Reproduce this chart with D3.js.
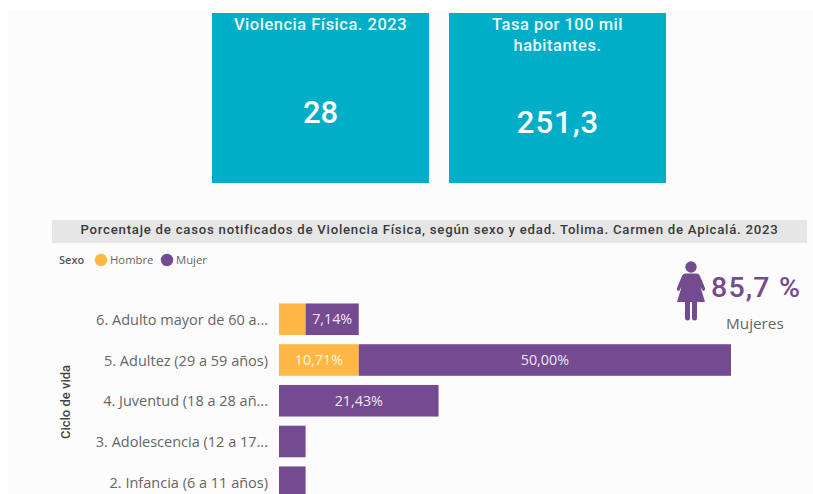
<!DOCTYPE html>
<html><head><meta charset="utf-8">
<script src="https://cdn.jsdelivr.net/npm/d3@7/dist/d3.min.js"></script>
<style>html,body{margin:0;padding:0;background:#fff;overflow:hidden}svg{display:block}</style>
</head><body><svg id="c" width="813" height="494"></svg>
<script>
const categories=["6. Adulto mayor de 60 a...","5. Adultez (29 a 59 años)","4. Juventud (18 a 28 añ...","3. Adolescencia (12 a 17...","2. Infancia (6 a 11 años)"];
const hombre=[3.57,10.71,0,0,0];
const mujer=[7.14,50.00,21.43,3.57,3.57];
const seriesNames=["Hombre","Mujer"];
const seriesColors=["#FFB845","#744A90"];
const chartTitle="Porcentaje de casos notificados de Violencia Física, según sexo y edad. Tolima. Carmen de Apicalá. 2023";
const cardTitles=[["Violencia Física. 2023"],["Tasa por 100 mil","habitantes."]];
const cardValues=["28","251,3"];
const din="Roboto, sans-serif", seg="'Open Sans', sans-serif";
const svg=d3.select("#c");
svg.append("rect").attr("x",8).attr("y",11).attr("width",805).attr("height",483).attr("fill","#fcfcfc");

// cards
const cx=[212,449],cvy=[123,133],cw=217;
cardValues.forEach((v,i)=>{
  svg.append("rect").attr("x",cx[i]).attr("y",13).attr("width",cw).attr("height",170).attr("fill","#00AEC7");
  cardTitles[i].forEach((t,j)=>svg.append("text").attr("x",cx[i]+cw/2).attr("y",30+j*20.5).attr("text-anchor","middle")
    .attr("font-family",din).attr("font-weight",500).attr("font-size",16.5).attr("letter-spacing",.5).attr("fill","#e9fafc").text(t));
  svg.append("text").attr("x",cx[i]+cw/2+(i?.5:0)).attr("y",cvy[i]).attr("text-anchor","middle")
    .attr("font-family",din).attr("font-weight",500).attr("font-size",31).attr("letter-spacing",i?1:0).attr("fill","#fff").text(v);
});

// title band
svg.append("rect").attr("x",52).attr("y",220).attr("width",755).attr("height",23).attr("fill","#E6E6E6");
svg.append("text").attr("x",429.5).attr("y",234).attr("text-anchor","middle").attr("font-family",din).attr("font-weight",500)
  .attr("font-size",13.2).attr("letter-spacing",.76).attr("fill","#3a3a3a").text(chartTitle);

// legend
svg.append("text").attr("x",59).attr("y",264).attr("font-family",seg).attr("font-size",11).attr("font-weight",600).attr("fill","#555").text("Sexo");
const lx=[101,167];
seriesNames.forEach((s,i)=>{
  svg.append("circle").attr("cx",lx[i]).attr("cy",260).attr("r",6.2).attr("fill",seriesColors[i]);
  svg.append("text").attr("x",lx[i]+9).attr("y",264).attr("font-family",seg).attr("font-size",11.3).attr("fill","#666").text(s);
});

// scales
const x=d3.scaleLinear().domain([0,60.71]).range([279,731]);
const y=d3.scaleBand().domain(categories).range([299,502.5]).paddingInner(.225).paddingOuter(.11);
svg.append("g").attr("transform","translate(279,1)")
  .call(d3.axisLeft(y).tickSize(0).tickPadding(11))
  .call(g=>g.select(".domain").remove())
  .selectAll("text").attr("font-family",seg).attr("font-size",14.5).attr("fill","#666");

const fmt=v=>v.toFixed(2).replace(".",",")+"%";
const stack=d3.stack().keys([0,1]).value((d,k)=>k===0?hombre[d]:mujer[d])(d3.range(categories.length));
stack.forEach((layer,k)=>{
  const g=svg.append("g");
  layer.forEach((d,i)=>{
    const v=d[1]-d[0]; if(!v) return;
    g.append("rect").attr("x",x(d[0])).attr("y",y(categories[i])).attr("width",x(d[1])-x(d[0])).attr("height",y.bandwidth()).attr("fill",seriesColors[k]);
    if(v>5) g.append("text").attr("x",(x(d[0])+x(d[1]))/2).attr("y",y(categories[i])+y.bandwidth()/2+5).attr("text-anchor","middle")
      .attr("font-family",seg).attr("font-size",14.3).attr("fill",k?"#f0e8f4":"#fff6e6").text(fmt(v));
  });
});

// axis title
svg.append("text").attr("transform","translate(70,402) rotate(-90)").attr("text-anchor","middle").attr("font-family",din).attr("font-weight",500)
  .attr("font-size",13).attr("fill","#444").text("Ciclo de vida");

// KPI + icon
const ic=svg.append("g").attr("transform","translate(691,262)").attr("fill","#744A90");
ic.append("circle").attr("cx",0).attr("cy",5).attr("r",5.7);
ic.append("path").attr("d","M-6 11.5H6Q8 11.5 9 14L14 26Q14.5 29 12 29L9.5 25L14 40H-14L-9.5 25L-12 29Q-14.5 29 -14 26L-9 14Q-8 11.5 -6 11.5Z");
ic.append("path").attr("d","M-6 38H-1V56Q-1 58.5 -3.5 58.5Q-6 58.5 -6 56ZM1 38H6V56Q6 58.5 3.5 58.5Q1 58.5 1 56Z");
svg.append("text").attr("x",711).attr("y",297).attr("font-family",din).attr("font-weight",500).attr("font-size",28.5).attr("letter-spacing",1.2).attr("fill","#744A90").text("85,7 %");
svg.append("text").attr("x",726).attr("y",329).attr("font-family",seg).attr("font-size",15.3).attr("fill","#666").text("Mujeres");
</script></body></html>
